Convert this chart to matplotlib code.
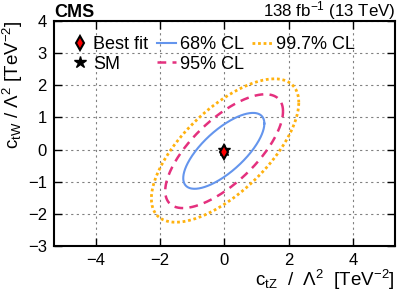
import numpy as np
import matplotlib
matplotlib.use("Agg")
import matplotlib.pyplot as plt
from matplotlib.lines import Line2D

plt.rcParams['font.family'] = ['Liberation Sans', 'DejaVu Sans']
plt.rcParams['mathtext.fontset'] = 'custom'
plt.rcParams['mathtext.rm'] = 'Liberation Sans'
plt.rcParams['mathtext.it'] = 'Liberation Sans'

# best fit and SM point
best_fit = (0.0, -0.08)
sm_point = (0.0, 0.0)

# contour shapes: centre, half extent in x and y, correlation
cl_labels = ['68% CL', '95% CL', '99.7% CL']
cl_cx = [-0.02, -0.01, 0.02]
cl_cy = [-0.04, -0.05, -0.03]
cl_ax = [1.26, 1.83, 2.29]
cl_ay = [1.18, 1.77, 2.23]
cl_rho = [0.72, 0.70, 0.67]
cl_colors = ['#6495ed', '#e4307e', '#ffb20f']
cl_styles = ['-', (0, (3.5, 2.5)), (0, (1, 1))]
cl_widths = [1.5, 1.8, 2.0]

fig = plt.figure(figsize=(3.99, 2.95), dpi=100)
ax = fig.add_axes([0.135, 0.166, 0.855, 0.763])

t = np.linspace(0, 2 * np.pi, 300)
for i in range(3):
    d = np.arccos(cl_rho[i])
    xs = cl_cx[i] + cl_ax[i] * np.cos(t)
    ys = cl_cy[i] + cl_ay[i] * np.cos(t - d)
    ax.plot(xs, ys, color=cl_colors[i], linestyle=cl_styles[i], linewidth=cl_widths[i])

ax.plot(*sm_point, marker='*', color='black', markersize=9, linestyle='none', zorder=5)
ax.plot(*best_fit, marker='d', markerfacecolor='red', markeredgecolor='black',
        markeredgewidth=1.5, markersize=7, linestyle='none', zorder=6)

ax.set_xlim(-5.3, 5.3)
ax.set_ylim(-3, 4)
ax.set_xticks([-4, -2, 0, 2, 4])
ax.set_yticks(range(-3, 5))
ax.tick_params(direction='in', top=True, right=True, length=6, width=1,
               labelsize=12, pad=5)
ax.grid(True, color='gray', linestyle=(0, (2, 3)), linewidth=0.8)
for s in ax.spines.values():
    s.set_linewidth(1.5)

ax.set_xlabel(r'c$_{\mathrm{tZ}}$  /  $\Lambda^2$  [TeV$^{-2}$]', fontsize=13.5, loc='right',
              labelpad=0)
ax.set_ylabel(r'c$_{\mathrm{tW}}$ / $\Lambda^2$ [TeV$^{-2}$]', fontsize=13.5, loc='top')
ax.yaxis.set_label_coords(-0.085, 1.0)

fig.text(0.135, 0.944, 'CMS', fontsize=13, fontweight='bold', ha='left', va='baseline')
fig.text(0.99, 0.943, r'138 fb$^{-1}$ (13 TeV)', fontsize=12.2, ha='right', va='baseline')

handles = [
    Line2D([], [], marker='d', markerfacecolor='red', markeredgecolor='black',
           markeredgewidth=1.5, markersize=7, linestyle='none'),
    Line2D([], [], marker='*', color='black', markersize=9, linestyle='none'),
]
labels = ['Best fit', 'SM']
for i in range(3):
    handles.append(Line2D([], [], color=cl_colors[i], linestyle=cl_styles[i], linewidth=cl_widths[i]))
    labels.append(cl_labels[i])
handles.append(Line2D([], [], linestyle='none'))
labels.append('')
ax.legend(handles, labels, ncol=3, loc='upper left', bbox_to_anchor=(0.01, 0.99),
          frameon=False, fontsize=13,
          handlelength=1.1, handletextpad=0.2, columnspacing=0.45, labelspacing=0.15,
          borderaxespad=0.3)

fig.savefig('out.png', dpi=100)
